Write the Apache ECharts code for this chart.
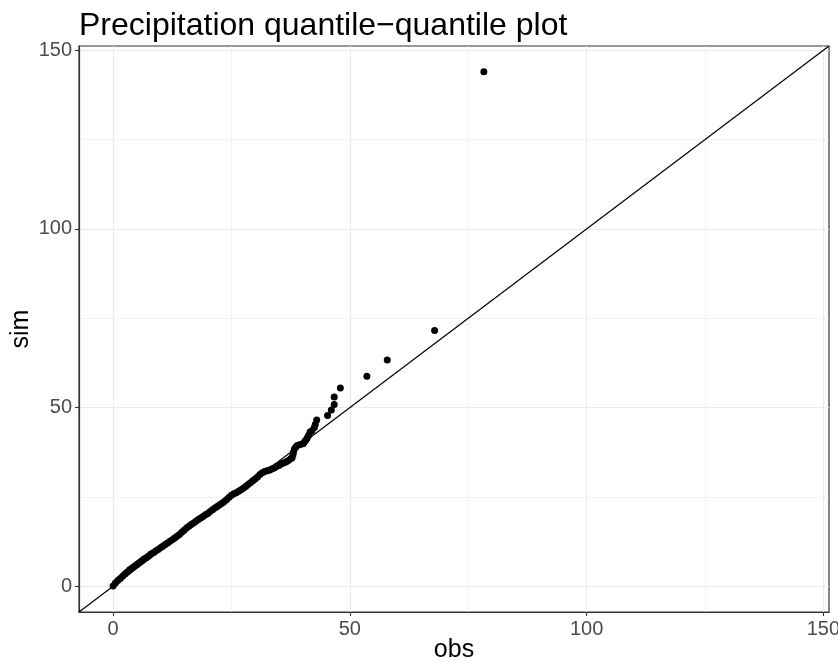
<!DOCTYPE html>
<html>
<head>
<meta charset="utf-8">
<script src="https://cdn.jsdelivr.net/npm/echarts@6/dist/echarts.min.js"></script>
<style>
html,body{margin:0;padding:0;background:#fff;}
#chart{width:838px;height:664px;}
</style>
</head>
<body>
<div id="chart"></div>
<script>
// Quantile pairs
const obs = [0,0.5,1,1.5,2,2.5,3,3.5,4,4.5,5,5.5,6,6.5,7,7.5,8,8.5,9,9.5,10,10.5,11,11.5,12,12.5,13,13.5,14,14.5,15,15.5,16,16.5,17,17.5,18,18.5,19,19.5,20,20.5,21,21.5,22,22.5,23,23.5,24,24.5,25,25.5,26,26.5,27,27.5,28,28.5,29,29.5,30,30.5,31,31.5,32,32.5,33,33.5,34,34.5,35,35.5,36,36.5,37,37.5,
  37.8,38.0,38.1,38.3,38.6,38.9,39.5,40.1,40.4,40.7,41.0,41.3,41.6,42.0,42.5,42.7,43.0,45.3,46.1,46.7,46.7,48.0,53.6,57.9,67.9,78.3];
const sim = [0.1,0.9,1.6,2.2,2.8,3.4,4.0,4.6,5.1,5.6,6.1,6.6,7.1,7.6,8.0,8.5,9.0,9.4,9.9,10.3,10.8,11.2,11.7,12.1,12.6,13.0,13.5,14.0,14.5,15.1,15.7,16.3,16.8,17.3,17.7,18.2,18.7,19.1,19.5,20.0,20.4,20.9,21.4,21.9,22.3,22.8,23.2,23.7,24.3,24.9,25.5,25.9,26.2,26.6,27.0,27.4,27.9,28.5,29.0,29.5,30.0,30.6,31.3,31.8,32.1,32.3,32.5,32.8,33.1,33.5,33.8,34.2,34.5,34.8,35.2,35.7,
  36.0,36.8,37.6,38.4,39.0,39.4,39.7,39.9,40.4,40.9,41.5,42.3,43.2,43.5,44.4,45.3,46.5,47.8,49.3,50.9,53.0,55.5,58.8,63.3,71.6,144.0];
const majorTicks = [0, 50, 100, 150];
const minorTicks = [25, 75, 125];
const tickLabels = ['0', '50', '100', '150'];
const expandMult = 0.05;

const dataMax = Math.max(Math.max.apply(null, obs), Math.max.apply(null, sim));
const lo = 0 - expandMult * dataMax;
const hi = dataMax + expandMult * dataMax;

const points = obs.map((v, i) => [v, sim[i]]);
const FONT = '"Liberation Sans", Arial, Helvetica, sans-serif';

function mainAxis(name, isY) {
  return {
    type: 'value', min: lo, max: hi,
    name: name, nameLocation: 'middle',
    nameGap: isY ? 45 : 26,
    nameRotate: isY ? 90 : 0,
    nameMoveOverlap: false,
    nameTextStyle: {fontSize: 25, color: '#000', fontFamily: FONT},
    axisLine: {show: true, onZero: false, lineStyle: {color: '#333333', width: 1.2}},
    axisTick: {show: true, length: 4, customValues: majorTicks, lineStyle: {color: '#333333', width: 1.1}},
    axisLabel: {customValues: majorTicks, fontSize: 20, color: '#4D4D4D', fontFamily: FONT, margin: 7,
      formatter: v => tickLabels[majorTicks.indexOf(v)]},
    splitLine: {show: true, lineStyle: {color: '#EBEBEB', width: 1.1}},
    z: 2
  };
}
function minorAxis() {
  return {
    type: 'value', min: lo, max: hi,
    axisLine: {show: false},
    axisTick: {show: false, customValues: minorTicks},
    axisLabel: {show: false, customValues: minorTicks},
    splitLine: {show: true, lineStyle: {color: '#EBEBEB', width: 0.6}}
  };
}

const chart = echarts.init(document.getElementById('chart'), null, {renderer: 'canvas'});
chart.setOption({
  animation: false,
  backgroundColor: '#ffffff',
  title: {
    text: 'Precipitation quantile\u2212quantile plot',
    left: 74, top: 5,
    textStyle: {fontSize: 32, fontWeight: 'normal', color: '#000', fontFamily: FONT}
  },
  grid: {left: 79, right: 9, top: 46, bottom: 52, show: true, borderColor: '#333333', borderWidth: 1.2, backgroundColor: '#fff',
    containLabel: false, outerBoundsMode: 'none'},
  xAxis: [mainAxis('obs', false), minorAxis()],
  yAxis: [mainAxis('sim', true), minorAxis()],
  series: [
    {
      type: 'line', xAxisIndex: 0, yAxisIndex: 0,
      data: [[lo, lo], [hi, hi]],
      showSymbol: false, silent: true,
      lineStyle: {color: '#000', width: 1.2},
      z: 3
    },
    {
      type: 'scatter', xAxisIndex: 0, yAxisIndex: 0,
      data: points, symbolSize: 7,
      itemStyle: {color: '#000', opacity: 1},
      silent: true, z: 4
    }
  ]
});
</script>
</body>
</html>
